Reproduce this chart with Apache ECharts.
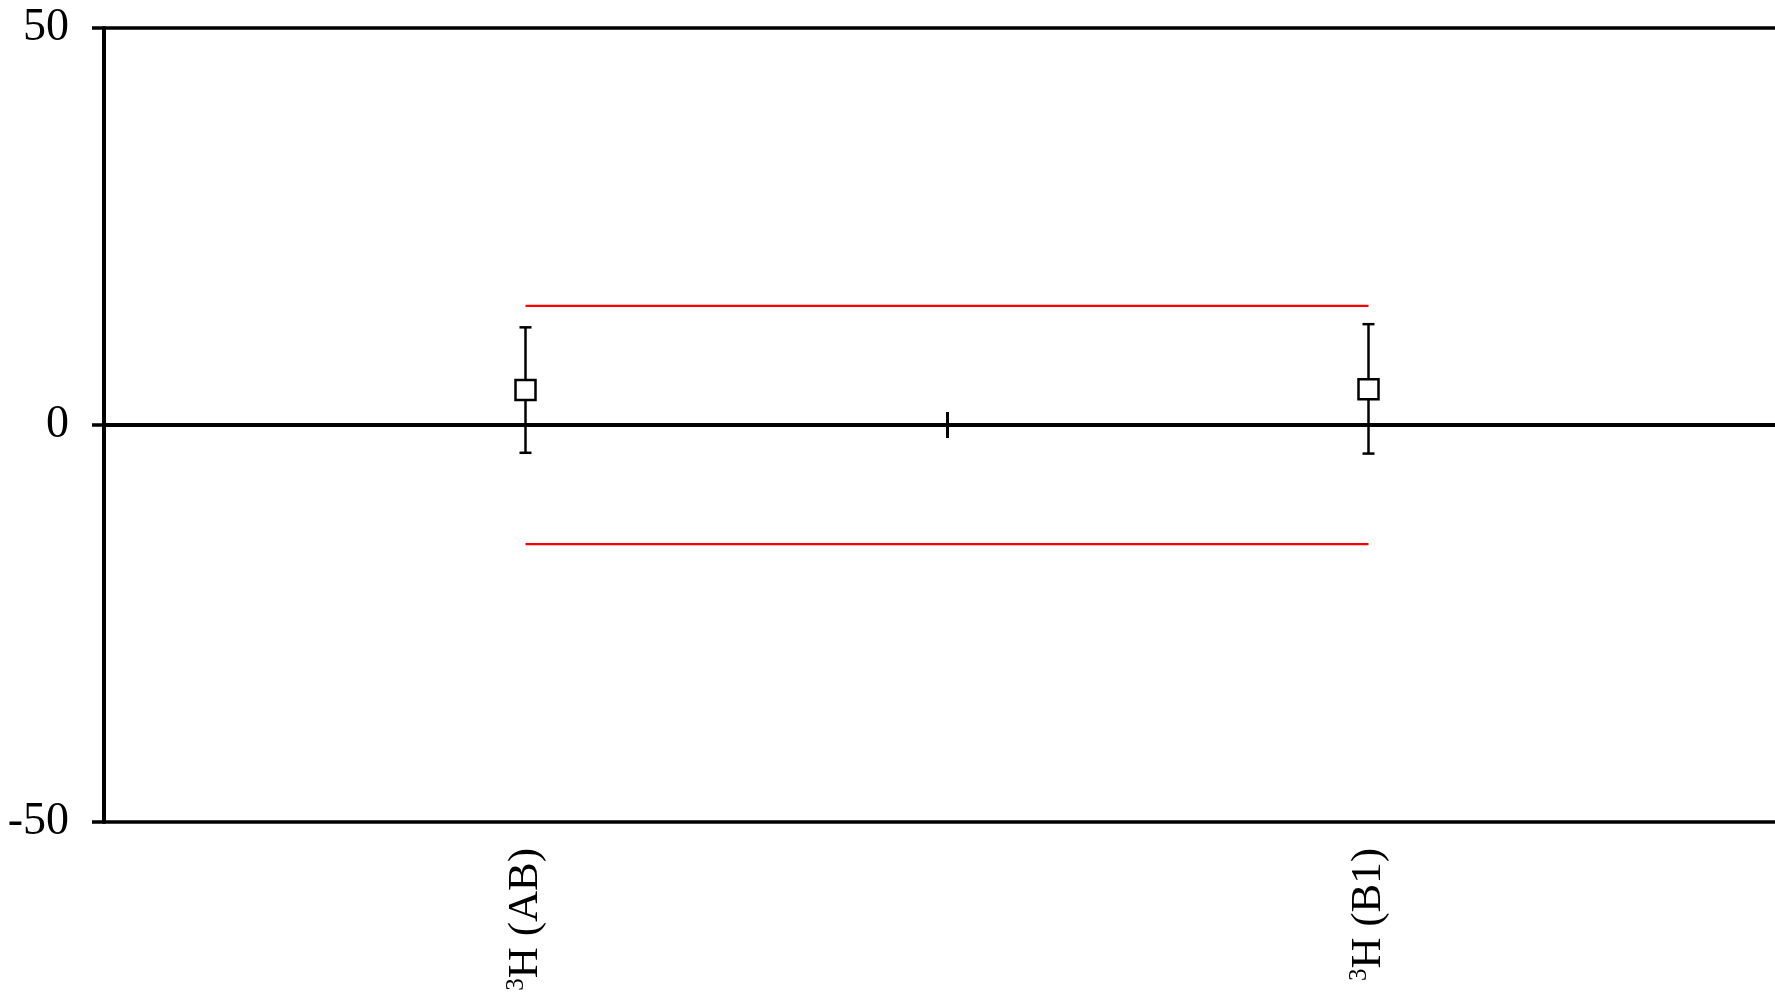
<!DOCTYPE html>
<html>
<head>
<meta charset="utf-8">
<script src="https://cdn.jsdelivr.net/npm/echarts@6/dist/echarts.min.js"></script>
<style>html,body{margin:0;padding:0;background:#fff}#c{width:1775px;height:992px}</style>
</head>
<body>
<div id="c"></div>
<script>
const categories = ['(AB)', '(B1)'];
const values = [4.4, 4.5];
const errLow = [-3.5, -3.6];
const errHigh = [12.3, 12.7];
const upperLimit = [15, 15];
const lowerLimit = [-15, -15];
const yTicks = { min: -50, max: 50, interval: 50 };

const FONT = '"Liberation Serif", "Times New Roman", serif';
const chart = echarts.init(document.getElementById('c'));

const errData = categories.map((c, i) => [i, errLow[i], errHigh[i]]);

const tickAxis = (pos) => ({
  type: 'category',
  data: categories,
  position: pos,
  boundaryGap: true,
  axisLine: { show: true, onZero: true, onZeroAxisIndex: 0, lineStyle: { color: '#000', width: 3.5 } },
  axisTick: { show: true, length: 13, lineStyle: { color: '#000', width: 3 } },
  axisLabel: { show: false },
  splitLine: { show: false }
});

chart.setOption({
  animation: false,
  backgroundColor: '#fff',
  grid: { left: 104, top: 28, bottom: 170, width: 1686, containLabel: false, outerBoundsMode: 'none' },
  xAxis: [
    {
      type: 'category',
      data: categories,
      position: 'bottom',
      boundaryGap: true,
      axisLine: { show: false, onZero: false },
      axisTick: { show: false },
      axisLabel: {
        show: true,
        rotate: 90,
        margin: 26,
        formatter: (v) => '{sup|3}{b|H ' + v + '}',
        rich: {
          sup: { fontFamily: FONT, fontSize: 25, color: '#000', verticalAlign: 'top', lineHeight: 43 },
          b: { fontFamily: FONT, fontSize: 43, color: '#000', lineHeight: 43 }
        }
      },
      splitLine: { show: false }
    },
    tickAxis('bottom'),
    tickAxis('top')
  ],
  yAxis: {
    type: 'value',
    min: yTicks.min,
    max: yTicks.max,
    interval: yTicks.interval,
    axisLine: { show: true, lineStyle: { color: '#000', width: 4 } },
    axisTick: { show: true, length: 12, lineStyle: { color: '#000', width: 3.5 } },
    axisLabel: { show: true, fontFamily: FONT, fontSize: 46, color: '#000', margin: 35 },
    splitLine: { show: true, lineStyle: { color: '#000', width: 3.5 } }
  },
  series: [
    {
      type: 'line',
      data: upperLimit,
      showSymbol: false,
      symbol: 'none',
      lineStyle: { color: '#ff0000', width: 2.2 },
      z: 2
    },
    {
      type: 'line',
      data: lowerLimit,
      showSymbol: false,
      symbol: 'none',
      lineStyle: { color: '#ff0000', width: 2.2 },
      z: 2
    },
    {
      type: 'custom',
      data: errData,
      z: 3,
      renderItem: (params, api) => {
        const x = api.value(0);
        const lo = api.coord([x, api.value(1)]);
        const hi = api.coord([x, api.value(2)]);
        const cap = 6;
        const st = { stroke: '#000', lineWidth: 2.5 };
        return {
          type: 'group',
          children: [
            { type: 'line', shape: { x1: lo[0], y1: lo[1], x2: hi[0], y2: hi[1] }, style: st },
            { type: 'line', shape: { x1: lo[0] - cap, y1: lo[1], x2: lo[0] + cap, y2: lo[1] }, style: st },
            { type: 'line', shape: { x1: hi[0] - cap, y1: hi[1], x2: hi[0] + cap, y2: hi[1] }, style: st }
          ]
        };
      }
    },
    {
      type: 'scatter',
      data: values,
      symbol: 'rect',
      symbolSize: 20,
      itemStyle: { color: '#ffffff', borderColor: '#000', borderWidth: 2.5, opacity: 1 },
      z: 4
    }
  ]
});
</script>
</body>
</html>
